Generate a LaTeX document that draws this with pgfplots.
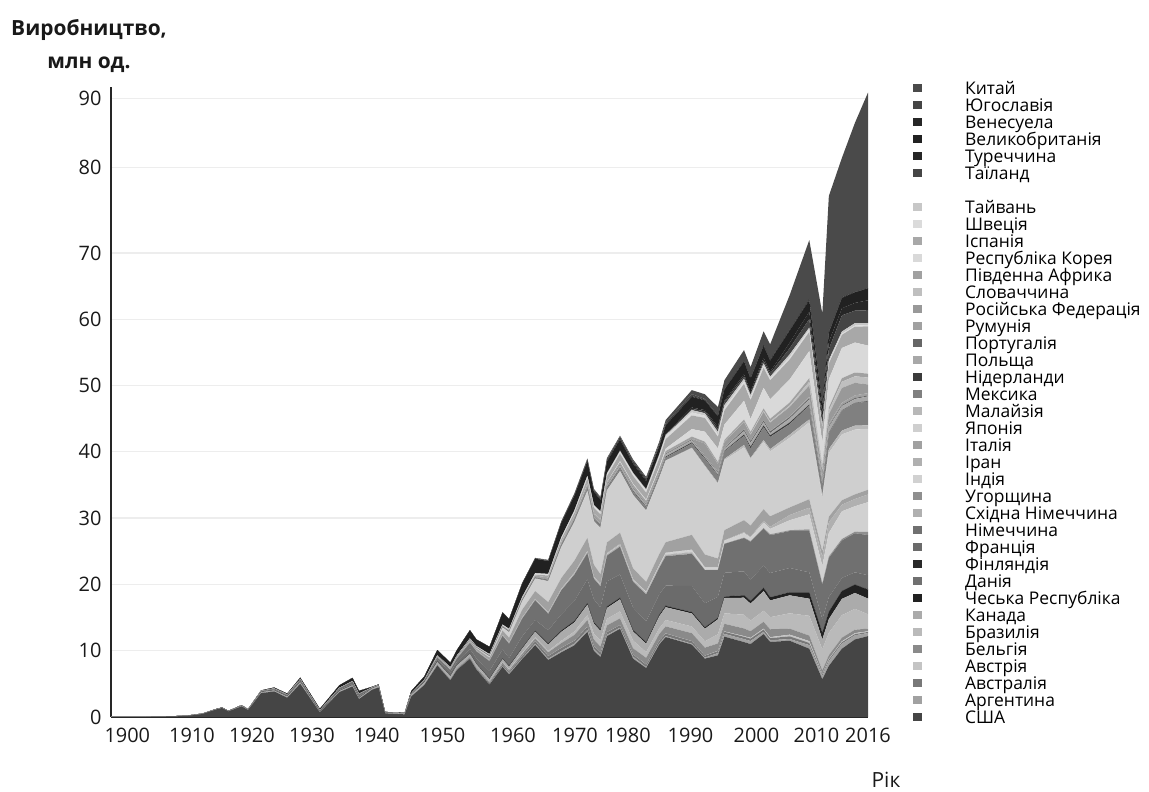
\documentclass[border=0pt]{standalone}
\usepackage{fontspec}
\setmainfont{Open Sans}
\usepackage{pgfplots}
\usepackage{pgfplotstable}
\pgfplotsset{compat=1.18}

\pgfplotstableread{
yr usa arg aus aut bel bra can cze den fin fra ger gdr hun ind irn ita jpn mys mex nld pol prt rou rus svk zaf kor esp swe twn tha tur gbr ven yug chn
1900 0.004 0 0 0 0 0 0 0 0 0 0 0 0 0 0 0 0 0 0 0 0 0 0 0 0 0 0 0 0 0 0 0 0 0 0 0 0
1905 0.02 0 0 0 0 0 0 0 0 0 0.01 0 0 0 0 0 0 0 0 0 0 0 0 0 0 0 0 0 0 0 0 0 0 0 0 0 0
1910 0.1 0 0 0 0 0 0 0 0 0 0.03 0.01 0 0 0 0 0 0 0 0 0 0 0 0 0 0 0 0 0 0 0 0 0 0.01 0 0 0
1912 0.2 0 0 0 0 0 0 0 0 0 0.04 0.01 0 0 0 0 0 0 0 0 0 0 0 0 0 0 0 0 0 0 0 0 0 0.02 0 0 0
1914 0.45 0 0 0 0 0 0.02 0 0 0 0.03 0.01 0 0 0 0 0 0 0 0 0 0 0 0 0 0 0 0 0 0 0 0 0 0.02 0 0 0
1916 1.1 0 0 0 0 0 0.05 0 0 0 0.02 0 0 0 0 0 0 0 0 0 0 0 0 0 0 0 0 0 0 0 0 0 0 0.01 0 0 0
1917 1.35 0 0 0 0 0 0.06 0 0 0 0.02 0 0 0 0 0 0 0 0 0 0 0 0 0 0 0 0 0 0 0 0 0 0 0.01 0 0 0
1918 0.85 0 0 0 0 0 0.05 0 0 0 0.03 0 0 0 0 0 0 0 0 0 0 0 0 0 0 0 0 0 0 0 0 0 0 0.01 0 0 0
1920 1.6 0 0 0 0 0 0.09 0 0 0 0.04 0.01 0 0 0 0 0 0 0 0 0 0 0 0 0 0 0 0 0 0 0 0 0 0.06 0 0 0
1921 1.05 0 0 0 0 0 0.06 0 0 0 0.04 0.01 0 0 0 0 0 0 0 0 0 0 0 0 0 0 0 0 0 0 0 0 0 0.04 0 0 0
1923 3.6 0 0 0 0 0 0.15 0 0 0 0.11 0.03 0 0 0 0 0.02 0 0 0 0 0 0 0 0 0 0 0 0 0 0 0 0 0.1 0 0 0
1925 3.85 0 0 0 0 0 0.16 0 0 0 0.18 0.06 0 0 0 0 0.05 0 0 0 0 0 0 0 0 0 0 0 0 0 0 0 0 0.15 0 0 0
1927 2.9 0 0 0 0 0 0.18 0 0 0 0.19 0.04 0 0 0 0 0.05 0 0 0 0 0 0 0 0 0 0 0 0 0 0 0 0 0.16 0 0 0
1929 5.0 0 0 0 0 0 0.26 0 0 0 0.25 0.13 0 0 0 0 0.05 0 0 0 0 0 0 0 0 0 0 0 0 0 0 0 0 0.24 0 0 0
1932 0.7 0 0 0 0 0 0.06 0 0 0 0.16 0.05 0 0 0 0 0.03 0 0 0 0 0 0 0 0 0 0 0 0 0 0 0 0 0.23 0 0 0
1935 3.75 0 0 0 0 0 0.17 0 0 0 0.17 0.25 0 0 0 0 0.05 0 0 0 0 0 0 0 0 0 0 0 0 0 0 0 0 0.4 0 0 0
1937 4.6 0 0 0 0 0 0.2 0 0 0 0.2 0.33 0 0 0 0 0.07 0 0 0 0 0 0 0 0 0 0 0 0 0 0 0 0 0.5 0 0 0
1938 2.7 0 0 0 0 0 0.17 0 0 0 0.23 0.34 0 0 0 0 0.07 0 0 0 0 0 0 0 0 0 0 0 0 0 0 0 0 0.44 0 0 0
1940 4.1 0 0 0 0 0 0.2 0 0 0 0.05 0.07 0 0 0 0 0.03 0 0 0 0 0 0 0 0 0 0 0 0 0 0 0 0 0.1 0 0 0
1941 4.45 0 0 0 0 0 0.27 0 0 0 0.02 0.05 0 0 0 0 0.02 0 0 0 0 0 0 0 0 0 0 0 0 0 0 0 0 0.1 0 0 0
1942 0.55 0 0 0 0 0 0.1 0 0 0 0.02 0.03 0 0 0 0 0.02 0 0 0 0 0 0 0 0 0 0 0 0 0 0 0 0 0.05 0 0 0
1945 0.4 0 0 0 0 0 0.13 0 0 0 0.01 0.01 0 0 0 0 0 0 0 0 0 0 0 0 0 0 0 0 0 0 0 0 0 0.1 0 0 0
1946 3.08 0 0.02 0 0.02 0 0.25 0.01 0 0 0.1 0.01 0 0 0 0 0.03 0.01 0 0 0 0 0 0 0 0 0 0 0 0.01 0 0 0 0.36 0 0 0
1948 4.79 0 0.04 0 0.03 0 0.35 0.02 0 0 0.2 0.06 0 0 0 0 0.06 0.02 0 0 0 0 0 0 0 0 0 0 0 0.02 0 0 0 0.51 0 0 0
1950 7.76 0 0.1 0 0.05 0 0.39 0.03 0 0 0.36 0.3 0.03 0 0.02 0 0.13 0.03 0 0.02 0.01 0.01 0 0 0 0 0.03 0 0.01 0.04 0 0 0 0.78 0 0 0
1952 5.53 0 0.1 0 0.08 0 0.43 0.04 0 0 0.5 0.43 0.04 0 0.02 0 0.15 0.04 0 0.02 0.01 0.02 0 0 0 0 0.04 0 0.01 0.05 0 0 0 0.69 0 0 0
1953 7.08 0 0.12 0 0.1 0 0.48 0.04 0 0 0.5 0.49 0.04 0 0.02 0 0.18 0.05 0 0.02 0.01 0.02 0 0 0 0 0.04 0 0.02 0.06 0 0 0 0.83 0 0 0
1955 8.76 0 0.15 0 0.15 0 0.45 0.05 0 0 0.72 0.91 0.05 0 0.03 0 0.27 0.07 0 0.03 0.02 0.03 0 0 0 0 0.05 0 0.03 0.08 0 0 0 1.24 0 0.01 0
1956 7.15 0.01 0.15 0 0.16 0.01 0.47 0.06 0 0 0.83 1.07 0.06 0 0.03 0 0.32 0.11 0 0.03 0.02 0.03 0 0 0 0 0.05 0 0.04 0.09 0 0 0 1.0 0 0.01 0
1958 4.89 0.03 0.2 0 0.18 0.06 0.36 0.08 0 0 1.13 1.5 0.08 0 0.04 0 0.4 0.19 0 0.04 0.03 0.04 0 0 0 0 0.07 0 0.05 0.11 0 0 0 1.1 0 0.01 0.01
1960 7.58 0.09 0.3 0.02 0.2 0.13 0.4 0.1 0 0 1.37 2.05 0.1 0 0.05 0 0.64 0.48 0 0.05 0.04 0.04 0.01 0.01 0 0 0.09 0 0.06 0.13 0 0 0 1.81 0.01 0.02 0.02
1961 6.44 0.14 0.25 0.02 0.22 0.15 0.39 0.1 0 0 1.2 2.15 0.1 0 0.05 0 0.76 0.81 0 0.06 0.04 0.05 0.01 0.02 0 0 0.1 0 0.08 0.14 0 0 0 1.46 0.01 0.03 0.02
1963 8.73 0.1 0.35 0.02 0.3 0.17 0.63 0.11 0 0 1.74 2.67 0.11 0 0.06 0 1.18 1.28 0 0.07 0.05 0.05 0.02 0.02 0 0 0.14 0 0.12 0.17 0 0 0 2.01 0.03 0.04 0.03
1965 10.84 0.19 0.4 0.02 0.4 0.18 0.85 0.12 0 0 1.64 2.98 0.12 0 0.07 0 1.18 1.88 0 0.1 0.06 0.06 0.03 0.03 0 0 0.18 0 0.16 0.2 0 0 0 2.18 0.04 0.05 0.04
1967 8.6 0.18 0.4 0.02 0.55 0.23 0.95 0.15 0 0.01 2.0 2.48 0.13 0.01 0.08 0 1.54 3.15 0 0.12 0.07 0.07 0.04 0.04 0 0 0.22 0 0.3 0.24 0 0 0 1.94 0.05 0.08 0.05
1969 9.75 0.22 0.45 0.02 0.7 0.35 1.35 0.18 0 0.02 2.46 3.6 0.14 0.01 0.08 0.02 1.6 4.67 0.02 0.16 0.07 0.09 0.05 0.05 0 0 0.25 0.03 0.45 0.28 0.02 0 0.01 2.18 0.06 0.1 0.06
1971 10.8 0.25 0.45 0.02 0.85 0.52 1.37 0.2 0 0.02 3.0 3.98 0.15 0.01 0.09 0.04 1.82 5.81 0.03 0.21 0.08 0.12 0.05 0.06 0 0 0.3 0.02 0.53 0.32 0.03 0.01 0.03 2.2 0.08 0.14 0.11
1973 12.84 0.29 0.47 0.02 1.0 0.75 1.57 0.2 0 0.03 3.6 3.95 0.16 0.01 0.09 0.07 1.96 7.08 0.03 0.29 0.09 0.18 0.06 0.07 0 0 0.32 0.03 0.82 0.34 0.05 0.02 0.05 2.16 0.11 0.17 0.12
1974 9.97 0.29 0.45 0.02 0.95 0.86 1.52 0.2 0 0.03 3.46 3.1 0.17 0.01 0.08 0.08 1.77 6.55 0.03 0.35 0.09 0.22 0.06 0.07 0 0 0.33 0.04 0.84 0.36 0.05 0.02 0.05 1.94 0.13 0.18 0.13
1975 9.04 0.24 0.42 0.02 0.9 0.93 1.44 0.2 0 0.03 3.3 3.19 0.18 0.01 0.08 0.1 1.46 6.94 0.03 0.36 0.1 0.27 0.06 0.08 0 0 0.33 0.04 0.81 0.37 0.05 0.03 0.06 1.65 0.14 0.2 0.14
1976 12.2 0.19 0.4 0.02 1.0 0.99 1.64 0.2 0 0.03 3.8 3.87 0.18 0.01 0.09 0.12 1.59 7.84 0.03 0.32 0.1 0.31 0.07 0.09 0 0 0.31 0.05 0.87 0.35 0.07 0.03 0.06 1.71 0.16 0.22 0.14
1978 13.3 0.18 0.38 0.02 1.0 1.06 1.82 0.2 0 0.03 3.51 4.19 0.19 0.01 0.1 0.15 1.66 9.27 0.03 0.38 0.1 0.38 0.08 0.09 0 0 0.3 0.16 1.14 0.3 0.1 0.04 0.07 1.61 0.18 0.25 0.15
1980 8.8 0.28 0.36 0.02 0.9 1.17 1.37 0.2 0 0.03 3.38 3.88 0.2 0.01 0.11 0.1 1.61 11.04 0.03 0.49 0.11 0.4 0.08 0.1 0 0 0.4 0.12 1.18 0.31 0.13 0.04 0.05 1.31 0.16 0.25 0.22
1982 7.39 0.13 0.38 0.02 1.0 0.86 1.27 0.2 0 0.03 3.15 4.06 0.2 0.01 0.15 0.08 1.45 10.73 0.04 0.47 0.11 0.28 0.09 0.1 0 0 0.41 0.16 1.07 0.34 0.14 0.06 0.05 1.16 0.16 0.25 0.2
1984 10.92 0.17 0.38 0.02 1.0 0.86 1.83 0.2 0 0.03 3.06 3.99 0.2 0.01 0.2 0.07 1.6 11.46 0.05 0.36 0.12 0.32 0.09 0.11 0 0 0.35 0.27 1.31 0.4 0.15 0.08 0.07 1.13 0.12 0.25 0.32
1985 12.06 0.14 0.39 0.02 1.05 0.97 1.93 0.2 0 0.03 3.02 4.45 0.21 0.01 0.25 0.07 1.57 12.27 0.05 0.46 0.12 0.34 0.09 0.11 0 0 0.3 0.38 1.42 0.44 0.16 0.1 0.08 1.31 0.1 0.26 0.44
1989 10.92 0.13 0.38 0.02 1.2 1.01 1.95 0.2 0 0.03 3.92 4.85 0.22 0.01 0.36 0.05 2.22 13.03 0.12 0.64 0.15 0.34 0.1 0.12 0 0 0.33 1.13 2.05 0.45 0.35 0.2 0.2 1.63 0.1 0.3 0.59
1991 8.8 0.14 0.3 0.02 1.2 0.96 1.89 0.19 0 0.03 3.61 5.02 0 0.01 0.36 0.1 1.88 13.25 0.18 0.99 0.15 0.17 0.1 0.08 1.8 0 0.3 1.5 2.08 0.33 0.38 0.28 0.2 1.45 0.1 0.12 0.71
1993 9.3 0.34 0.3 0.05 1.1 1.39 2.25 0.22 0 0.03 3.16 4.03 0 0.02 0.35 0.1 1.27 11.23 0.2 1.08 0.1 0.34 0.1 0.08 1.1 0.03 0.29 2.05 1.77 0.33 0.4 0.42 0.35 1.57 0.07 0.02 1.3
1994 12.12 0.41 0.32 0.06 1.15 1.58 2.32 0.2 0 0.03 3.56 4.36 0 0.03 0.45 0.07 1.53 10.55 0.2 1.1 0.1 0.34 0.1 0.08 0.8 0.03 0.31 2.31 2.14 0.39 0.42 0.43 0.21 1.69 0.05 0.01 1.35
1997 11.3 0.45 0.35 0.1 1.15 2.07 2.57 0.37 0 0.03 3.58 5.02 0 0.07 0.68 0.13 1.82 10.98 0.37 1.36 0.2 0.52 0.25 0.1 1.0 0.04 0.36 2.82 2.56 0.38 0.38 0.36 0.34 1.94 0.1 0.01 1.58
1998 11.0 0.46 0.36 0.12 1.0 1.59 2.57 0.38 0 0.03 3.2 5.73 0 0.09 0.54 0.12 1.69 10.05 0.16 1.43 0.25 0.59 0.25 0.1 0.84 0.13 0.32 1.95 2.83 0.37 0.4 0.16 0.34 1.98 0.1 0.01 1.63
2000 12.5 0.34 0.35 0.14 1.03 1.68 2.96 0.46 0 0.04 3.35 5.53 0 0.14 0.8 0.28 1.74 10.14 0.28 1.94 0.27 0.5 0.25 0.08 1.2 0.18 0.36 3.11 3.03 0.3 0.37 0.41 0.43 1.81 0.1 0.01 2.07
2001 11.33 0.24 0.32 0.15 1.19 1.82 2.53 0.47 0 0.04 3.63 5.69 0 0.15 0.81 0.32 1.58 9.78 0.35 1.84 0.24 0.35 0.24 0.07 1.25 0.18 0.41 2.95 2.85 0.29 0.27 0.46 0.27 1.69 0.1 0.01 2.33
2004 11.5 0.26 0.41 0.25 0.9 2.32 2.71 0.45 0 0.01 3.67 5.57 0 0.12 1.51 0.79 1.14 10.51 0.47 1.58 0.25 0.6 0.23 0.12 1.39 0.22 0.46 3.47 3.01 0.34 0.43 0.93 0.82 1.86 0.1 0.01 5.23
2007 10.3 0.54 0.33 0.27 0.84 2.98 2.58 0.94 0 0.02 3.02 6.21 0 0.29 2.25 1.0 1.28 11.6 0.44 2.1 0.14 0.79 0.18 0.24 1.66 0.57 0.53 4.09 2.89 0.37 0.28 1.29 1.1 1.75 0.17 0.01 8.88
2009 5.7 0.51 0.23 0.07 0.52 3.18 1.49 0.98 0 0.02 2.05 5.21 0 0.18 2.64 1.39 0.84 7.93 0.49 1.56 0.06 0.88 0.13 0.3 0.72 0.46 0.37 3.51 2.17 0.15 0.23 0.99 0.87 1.09 0.11 0.01 13.79
2010 7.7 0.72 0.24 0.1 0.56 3.38 2.07 1.08 0 0.01 2.23 5.91 0 0.21 3.56 1.6 0.84 9.63 0.57 2.34 0.11 0.87 0.16 0.35 1.4 0.56 0.47 4.27 2.39 0.22 0.3 1.64 1.09 1.39 0.1 0.02 20.5
2012 10.3 0.76 0.22 0.14 0.54 3.4 2.46 1.18 0 0.01 1.97 5.65 0 0.22 4.17 1.0 0.67 9.94 0.57 3.0 0.05 0.65 0.16 0.34 2.23 0.93 0.54 4.56 1.98 0.16 0.34 2.43 1.07 1.58 0.1 0.01 21.0
2014 11.7 0.62 0.18 0.15 0.52 3.15 2.39 1.25 0 0.04 1.82 5.9 0 0.23 3.84 1.09 0.7 9.77 0.6 3.37 0.05 0.59 0.16 0.39 1.89 0.99 0.57 4.52 2.4 0.15 0.38 1.88 1.17 1.6 0.05 0.01 25.5
2016 12.2 0.47 0.16 0.1 0.4 2.16 2.37 1.35 0 0.09 2.08 6.06 0 0.47 4.49 1.16 0.71 9.2 0.51 3.6 0.09 0.68 0.14 0.36 1.3 1.04 0.6 4.23 2.89 0.2 0.31 1.94 1.49 1.82 0.01 0.01 29.5
}\prodtable

\definecolor{cusa}{gray}{0.27}
\definecolor{carg}{gray}{0.63}
\definecolor{caus}{gray}{0.47}
\definecolor{caut}{gray}{0.77}
\definecolor{cbel}{gray}{0.54}
\definecolor{cbra}{gray}{0.73}
\definecolor{ccan}{gray}{0.67}
\definecolor{ccze}{gray}{0.13}
\definecolor{cden}{gray}{0.44}
\definecolor{cfin}{gray}{0.16}
\definecolor{cfra}{gray}{0.42}
\definecolor{cger}{gray}{0.44}
\definecolor{cgdr}{gray}{0.69}
\definecolor{chun}{gray}{0.56}
\definecolor{cind}{gray}{0.82}
\definecolor{cirn}{gray}{0.69}
\definecolor{cita}{gray}{0.63}
\definecolor{cjpn}{gray}{0.81}
\definecolor{cmys}{gray}{0.72}
\definecolor{cmex}{gray}{0.50}
\definecolor{cnld}{gray}{0.23}
\definecolor{cpol}{gray}{0.66}
\definecolor{cprt}{gray}{0.40}
\definecolor{crou}{gray}{0.63}
\definecolor{crus}{gray}{0.60}
\definecolor{csvk}{gray}{0.75}
\definecolor{czaf}{gray}{0.63}
\definecolor{ckor}{gray}{0.85}
\definecolor{cesp}{gray}{0.66}
\definecolor{cswe}{gray}{0.86}
\definecolor{ctwn}{gray}{0.78}
\definecolor{ctha}{gray}{0.27}
\definecolor{ctur}{gray}{0.15}
\definecolor{cgbr}{gray}{0.13}
\definecolor{cven}{gray}{0.15}
\definecolor{cyug}{gray}{0.27}
\definecolor{cchn}{gray}{0.29}

\newcommand{\layer}[2]{%
  \addplot[fill=c#1, draw=none, mark=none] table[x=yr, y=#1] {\prodtable} \closedcycle;
  \addlegendentry{#2}%
}

\pgfplotsset{sqlegend/.style={legend image code/.code={\fill[##1] (0bp,-1bp) rectangle (9bp,7bp);}}}

\begin{document}
\begin{tikzpicture}
\path[use as bounding box] (0,0) rectangle (1149bp,792bp);
\begin{axis}[
  at={(111bp,75bp)}, anchor=south west,
  scale only axis, width=757bp, height=629.85bp,
  xmin=1900, xmax=2016, ymin=0, ymax=95,
  stack plots=y,
  axis lines*=left,
  axis line style={black!85, line width=1.3bp},
  major tick length=0pt,
  ymajorgrids, grid style={black!7, line width=1.3bp},
  ytick={0,10,20,30,40,50,60,70,82.9,93.3},
  yticklabels={0,10,20,30,40,50,60,70,80,90},
  xtick={1902.5,1912.4,1921.6,1930.8,1940.7,1950.8,1961.6,1971.1,1979.2,1988.8,1998.9,2008.1,2016.0},
  xticklabels={1900,1910,1920,1930,1940,1950,1960,1970,1980,1990,2000,2010,2016},
  tick label style={font=\fontsize{20}{24}\selectfont, text=black!90},
  yticklabel style={xshift=-6bp},
  xticklabel style={yshift=-8bp},
  /pgf/number format/assume math mode=true,
  sqlegend,
  reverse legend,
  legend cell align=left,
  legend style={draw=none, fill=none, at={(1.0594,1.0082)}, anchor=north west,
    font=\fontsize{17.5}{17}\selectfont, row sep=0pt, inner sep=0pt,
    nodes={inner sep=0pt, text height=12bp, text depth=5bp},
    /tikz/every odd column/.append style={column sep=43bp}},
]
\layer{usa}{США}
\layer{arg}{Аргентина}
\layer{aus}{Австралія}
\layer{aut}{Австрія}
\layer{bel}{Бельгія}
\layer{bra}{Бразилія}
\layer{can}{Канада}
\layer{cze}{Чеська Республіка}
\layer{den}{Данія}
\layer{fin}{Фінляндія}
\layer{fra}{Франція}
\layer{ger}{Німеччина}
\layer{gdr}{Східна Німеччина}
\layer{hun}{Угорщина}
\layer{ind}{Індія}
\layer{irn}{Іран}
\layer{ita}{Італія}
\layer{jpn}{Японія}
\layer{mys}{Малайзія}
\layer{mex}{Мексика}
\layer{nld}{Нідерланди}
\layer{pol}{Польща}
\layer{prt}{Португалія}
\layer{rou}{Румунія}
\layer{rus}{Російська Федерація}
\layer{svk}{Словаччина}
\layer{zaf}{Південна Африка}
\layer{kor}{Республіка Корея}
\layer{esp}{Іспанія}
\layer{swe}{Швеція}
\layer{twn}{Тайвань}
\addlegendimage{empty legend}\addlegendentry{}
\layer{tha}{Таїланд}
\layer{tur}{Туреччина}
\layer{gbr}{Великобританія}
\layer{ven}{Венесуела}
\layer{yug}{Югославія}
\layer{chn}{Китай}
\end{axis}
\node[font=\bfseries\fontsize{21}{34}\selectfont, align=center, text=black!90] at (89bp,746bp) {Виробництво,\\млн од.};
\node[font=\fontsize{21}{25}\selectfont, text=black!90] at (886bp,12bp) {Рік};
\end{tikzpicture}
\end{document}
